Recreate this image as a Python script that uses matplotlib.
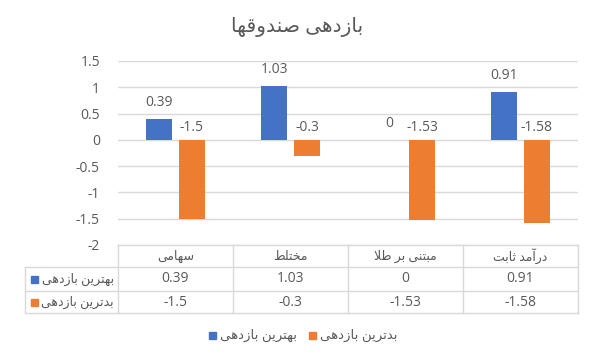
import matplotlib.pyplot as plt
from matplotlib.lines import Line2D
from matplotlib.patches import Rectangle
from matplotlib.transforms import blended_transform_factory

# data
categories = ['سهامی', 'مختلط', 'مبتنی بر طلا', 'درآمد ثابت']
series_names = ['بهترین بازدهی', 'بدترین بازدهی']
best = [0.39, 1.03, 0, 0.91]
worst = [-1.5, -0.3, -1.53, -1.58]
title = 'بازدهی صندوقها'
yticks = [1.5, 1, 0.5, 0, -0.5, -1, -1.5, -2]

colors = ['#4472C4', '#ED7D31']
text_color = '#595959'
grid_color = '#D9D9D9'
FONT = ['Open Sans', 'DejaVu Sans']
NUM_SIZE = 10
FA_SIZE = 9

# matplotlib does no arabic shaping, so map letters to presentation forms
FORMS = {
    'ا': ('\uFE8D', '\uFE8E', None, None),
    'آ': ('\uFE81', '\uFE82', None, None),
    'د': ('\uFEA9', '\uFEAA', None, None),
    'ر': ('\uFEAD', '\uFEAE', None, None),
    'ز': ('\uFEAF', '\uFEB0', None, None),
    'و': ('\uFEED', '\uFEEE', None, None),
    'ب': ('\uFE8F', '\uFE90', '\uFE91', '\uFE92'),
    'ت': ('\uFE95', '\uFE96', '\uFE97', '\uFE98'),
    'ث': ('\uFE99', '\uFE9A', '\uFE9B', '\uFE9C'),
    'خ': ('\uFEA5', '\uFEA6', '\uFEA7', '\uFEA8'),
    'س': ('\uFEB1', '\uFEB2', '\uFEB3', '\uFEB4'),
    'ص': ('\uFEB9', '\uFEBA', '\uFEBB', '\uFEBC'),
    'ط': ('\uFEC1', '\uFEC2', '\uFEC3', '\uFEC4'),
    'ق': ('\uFED5', '\uFED6', '\uFED7', '\uFED8'),
    'ل': ('\uFEDD', '\uFEDE', '\uFEDF', '\uFEE0'),
    'م': ('\uFEE1', '\uFEE2', '\uFEE3', '\uFEE4'),
    'ن': ('\uFEE5', '\uFEE6', '\uFEE7', '\uFEE8'),
    'ه': ('\uFEE9', '\uFEEA', '\uFEEB', '\uFEEC'),
    'ی': ('\uFBFC', '\uFBFD', '\uFBFE', '\uFBFF'),
}


def dual(c):
    return c in FORMS and FORMS[c][2] is not None


def fa(s):
    out = []
    n = len(s)
    i = 0
    while i < n:
        c = s[i]
        if c not in FORMS:
            out.append(c)
            i += 1
            continue
        join_prev = i > 0 and dual(s[i - 1])
        if c == 'ل' and i + 1 < n and s[i + 1] == 'ا':
            out.append('\uFEFC' if join_prev else '\uFEFB')
            i += 2
            continue
        join_next = dual(c) and i + 1 < n and s[i + 1] in FORMS
        iso, fin, ini, med = FORMS[c]
        if join_prev and join_next:
            g = med
        elif join_prev:
            g = fin
        elif join_next:
            g = ini
        else:
            g = iso
        out.append(g)
        i += 1
    return ''.join(reversed(out))


W, H = 595, 356
fig = plt.figure(figsize=(W / 100, H / 100), dpi=100)


def fx(px):
    return px / W


def fy(py):
    return 1 - py / H


ax = fig.add_axes([fx(118), fy(245), fx(578) - fx(118), fy(61) - fy(245)])

x = list(range(len(categories)))
off = 0.143
bw = 0.226
ax.bar([i - off for i in x], best, width=bw, color=colors[0], zorder=3)
ax.bar([i + off for i in x], worst, width=bw, color=colors[1], zorder=3)

# value labels
for i in x:
    ax.annotate(f'{best[i]:g}', (i - off, max(best[i], 0)), xytext=(0, 11.8),
                textcoords='offset points', ha='center', va='center',
                fontsize=NUM_SIZE, color=text_color, family=FONT)
    ax.annotate(f'{worst[i]:g}', (i + off, max(worst[i], 0)), xytext=(0, 8.6),
                textcoords='offset points', ha='center', va='center',
                fontsize=NUM_SIZE, color=text_color, family=FONT)

ax.set_xlim(-0.5, len(categories) - 0.5)
ax.set_ylim(-2, 1.5)
ax.set_yticks(yticks)
ax.set_yticklabels([f'{t:g}' for t in yticks], family=FONT)
ax.tick_params(axis='y', length=0, pad=13, labelsize=NUM_SIZE, labelcolor=text_color)
ax.tick_params(axis='x', length=0, labelbottom=False)
ax.grid(axis='y', color=grid_color, linewidth=1, zorder=0)
for s in ax.spines.values():
    s.set_visible(False)

fig.text(0.5, fy(27), fa(title), ha='center', va='center', fontsize=14.5,
         color=text_color, family=FONT)

# data table under the chart
tr = blended_transform_factory(ax.transData, fig.transFigure)
rows_y = [245, 267, 291, 313]


def hline(x0, x1, py):
    fig.add_artist(Line2D([fx(x0), fx(x1)], [fy(py), fy(py)], color=grid_color, lw=1))


def vline(px, y0, y1):
    fig.add_artist(Line2D([fx(px), fx(px)], [fy(y0), fy(y1)], color=grid_color, lw=1))


hline(118, 578, rows_y[0])
for py in rows_y[1:]:
    hline(25, 578, py)
vline(25, rows_y[1], rows_y[3])
for k in range(len(categories) + 1):
    px = 118 + k * (578 - 118) / len(categories)
    vline(px, rows_y[0], rows_y[3])

for i, cat in enumerate(categories):
    fig.text(i, (fy(rows_y[0]) + fy(rows_y[1])) / 2, fa(cat), transform=tr,
             ha='center', va='center', fontsize=FA_SIZE, color=text_color, family=FONT)
    for r, vals in enumerate([best, worst]):
        fig.text(i, (fy(rows_y[r + 1]) + fy(rows_y[r + 2])) / 2, f'{vals[i]:g}',
                 transform=tr, ha='center', va='center', fontsize=NUM_SIZE,
                 color=text_color, family=FONT)

for r, name in enumerate(series_names):
    yc = (rows_y[r + 1] + rows_y[r + 2]) / 2
    fig.add_artist(Rectangle((fx(31), fy(yc + 3.5)), fx(7), 7 / H, color=colors[r]))
    fig.text(fx(114), fy(yc), fa(name), ha='right', va='center', fontsize=FA_SIZE,
             color=text_color, family=FONT)

# legend
leg_x = [209, 309]
for r, name in enumerate(series_names):
    fig.add_artist(Rectangle((fx(leg_x[r]), fy(339)), fx(7), 7 / H, color=colors[r]))
    fig.text(fx(leg_x[r] + 11), fy(335), fa(name), ha='left', va='center',
             fontsize=9.5, color=text_color, family=FONT)

fig.savefig('out.png', dpi=100)
